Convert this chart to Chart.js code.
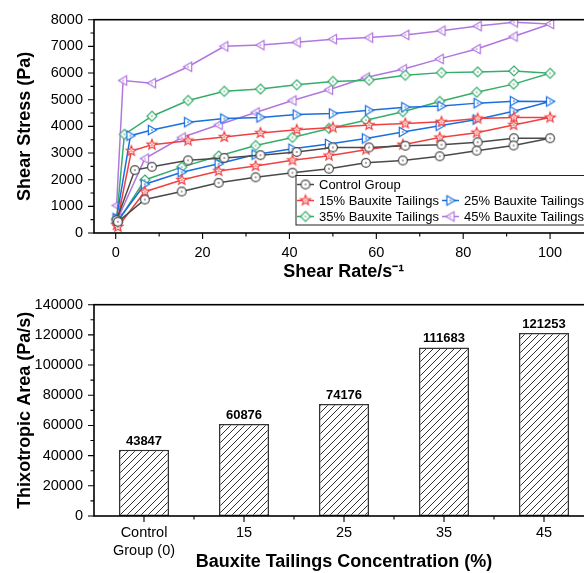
<!DOCTYPE html>
<html>
<head>
<meta charset="utf-8">
<script src="https://cdn.jsdelivr.net/npm/chart.js@4.4.0/dist/chart.umd.min.js"></script>
<style>
  html, body { margin: 0; padding: 0; background: #fff; overflow: hidden; }
  #wrap { position: relative; width: 584px; height: 573px; overflow: hidden; }
  canvas { position: absolute; left: 0; }
  #loop { top: 0; }
  #bars { top: 285px; }
</style>
</head>
<body>
<div id="wrap">
  <canvas id="loop" width="600" height="285"></canvas>
  <canvas id="bars" width="600" height="288"></canvas>
</div>
<script>
// ---- data: hysteresis loops (shear stress vs shear rate) ----
const groups = ['Control Group', '15% Bauxite Tailings', '25% Bauxite Tailings', '35% Bauxite Tailings', '45% Bauxite Tailings'];
const startRate = 0.2;                       // first point of the up curve
const rampRates = [4.4, 3.6, 3.4, 2.0, 1.7]; // second point of the up curve, per group
const upRates = [8.33, 16.67, 25, 33.33, 41.67, 50, 58.33, 66.67, 75, 83.33, 91.67, 100];
const downRates = [91.6, 83.1, 74.6, 66.1, 57.6, 49.1, 40.7, 32.2, 23.7, 15.2, 6.7, 0.5];

// up curve: [start, ramp, ...upRates]
const upControl = [480, 2360, 2483, 2725, 2816, 2920, 3040, 3210, 3210, 3273, 3310, 3406, 3554, 3554];
const up15 = [300, 3075, 3310, 3463, 3600, 3750, 3870, 3955, 4048, 4107, 4170, 4292, 4328, 4328];
const up25 = [560, 3650, 3863, 4155, 4292, 4335, 4440, 4480, 4600, 4718, 4760, 4871, 4945, 4934];
const up35 = [520, 3701, 4380, 4970, 5314, 5399, 5560, 5683, 5731, 5915, 6015, 6041, 6077, 5989];
const up45 = [1033, 5720, 5620, 6236, 7000, 7048, 7150, 7270, 7330, 7430, 7590, 7760, 7900, 7840];
// down curve: follows downRates
const downControl = [3284, 3089, 2878, 2720, 2631, 2410, 2262, 2090, 1882, 1555, 1255, 420];
const down15 = [4048, 3764, 3579, 3310, 3125, 2900, 2725, 2509, 2325, 1990, 1550, 232];
const down25 = [4565, 4255, 4022, 3790, 3545, 3340, 3160, 2941, 2594, 2280, 1830, 470];
const down35 = [5583, 5277, 4934, 4550, 4232, 3923, 3585, 3280, 2890, 2472, 1990, 428];
const down45 = [7370, 6900, 6530, 6140, 5830, 5376, 4970, 4520, 4060, 3580, 2790, 542];

const rateTicks = [0, 20, 40, 60, 80, 100];
const stressTicks = [0, 1000, 2000, 3000, 4000, 5000, 6000, 7000, 8000];

// ---- data: thixotropic area ----
const concLabels = [['Control', 'Group (0)'], '15', '25', '35', '45'];
const thixoArea = [43847, 60876, 74176, 111683, 121253];
const areaTicks = [0, 20000, 40000, 60000, 80000, 100000, 120000, 140000];

const upSets = [upControl, up15, up25, up35, up45];
const downSets = [downControl, down15, down25, down35, down45];
const colors = ['#4a4a4a', '#f14040', '#1a6fdf', '#37ad6b', '#b177de'];
const shapes = ['circle', 'star', 'right', 'diamond', 'left'];
const FONT = '"Liberation Sans", Arial, sans-serif';
const tickFont = { family: FONT, size: 14.5 };
const titleFont = { family: FONT, size: 18, weight: 'bold' };

// hollow marker with a dot in the middle
function marker(shape, color) {
  const s = 16, c = document.createElement('canvas');
  c.width = c.height = s;
  const g = c.getContext('2d');
  g.translate(s / 2, s / 2);
  g.beginPath();
  if (shape === 'circle') g.arc(0, 0, 4.4, 0, Math.PI * 2);
  else if (shape === 'star') {
    for (let k = 0; k < 10; k++) {
      const r = k % 2 ? 2.2 : 5.2, ang = -Math.PI / 2 + k * Math.PI / 5;
      g.lineTo(r * Math.cos(ang), r * Math.sin(ang));
    }
  } else if (shape === 'right') { g.moveTo(-3.6, -4.8); g.lineTo(4.6, 0); g.lineTo(-3.6, 4.8); }
  else if (shape === 'left') { g.moveTo(3.6, -4.8); g.lineTo(-4.6, 0); g.lineTo(3.6, 4.8); }
  else { g.moveTo(0, -5); g.lineTo(5, 0); g.lineTo(0, 5); g.lineTo(-5, 0); }
  g.closePath();
  g.fillStyle = '#fff'; g.fill();
  g.strokeStyle = color; g.lineWidth = 1.2; g.stroke();
  g.fillStyle = color; g.fillRect(-0.7, -0.7, 1.4, 1.4);
  return c;
}
const markers = shapes.map((s, i) => marker(s, colors[i]));

const loopSets = groups.map((name, i) => {
  const rates = [startRate, rampRates[i], ...upRates];
  const pts = rates.map((r, k) => ({ x: r, y: upSets[i][k] }))
    .concat(downRates.map((r, k) => ({ x: r, y: downSets[i][k] })));
  return {
    label: name, data: pts, showLine: true,
    borderColor: colors[i], borderWidth: 1.5,
    pointStyle: markers[i], pointRadius: 5
  };
});

// frame + outward major/minor ticks
const axisFrame = {
  id: 'axisFrame',
  afterDraw(chart) {
    const { ctx, chartArea: a } = chart;
    const sx = chart.scales.x, sy = chart.scales.y;
    const minors = (sc) => {
      const v = sc.ticks.map(t => t.value), out = [];
      for (let k = 0; k < v.length - 1; k++) out.push((v[k] + v[k + 1]) / 2);
      if (v.length > 1) out.push(v[v.length - 1] + (v[1] - v[0]) / 2);
      return out;
    };
    ctx.save();
    ctx.strokeStyle = '#000';
    ctx.lineWidth = 1.1;
    ctx.beginPath();
    sx.ticks.forEach(t => { const p = sx.getPixelForValue(t.value); ctx.moveTo(p, a.bottom); ctx.lineTo(p, a.bottom + 6); });
    minors(sx).forEach(v => { const p = sx.getPixelForValue(v); ctx.moveTo(p, a.bottom); ctx.lineTo(p, a.bottom + 3.5); });
    sy.ticks.forEach(t => { const p = sy.getPixelForValue(t.value); ctx.moveTo(a.left, p); ctx.lineTo(a.left - 6, p); });
    minors(sy).forEach(v => { if (v <= sy.max) { const p = sy.getPixelForValue(v); ctx.moveTo(a.left, p); ctx.lineTo(a.left - 3.5, p); } });
    ctx.stroke();
    ctx.lineWidth = 1.6;
    ctx.strokeRect(a.left, a.top, a.right - a.left, a.bottom - a.top);
    ctx.restore();
  }
};

// legend box inside the loop plot
const loopLegend = {
  id: 'loopLegend',
  afterDraw(chart) {
    const { ctx } = chart;
    const slots = [[296, 184.5], [296, 200.5], [441, 200.5], [296, 216.5], [441, 216.5]];
    ctx.save();
    ctx.fillStyle = '#fff';
    ctx.fillRect(296, 175.5, 310, 49.5);
    ctx.strokeStyle = '#222'; ctx.lineWidth = 1;
    ctx.strokeRect(296, 175.5, 310, 49.5);
    ctx.font = '13px ' + FONT;
    ctx.textBaseline = 'middle';
    groups.forEach((name, i) => {
      const [x, y] = slots[i];
      ctx.strokeStyle = colors[i]; ctx.lineWidth = 1.5;
      ctx.beginPath(); ctx.moveTo(x + 1, y); ctx.lineTo(x + 18, y); ctx.stroke();
      ctx.drawImage(markers[i], x + 9.5 - 8, y - 8);
      ctx.fillStyle = '#000';
      ctx.fillText(name, x + 23, y + 0.5);
    });
    ctx.restore();
  }
};

new Chart(document.getElementById('loop'), {
  type: 'scatter',
  data: { datasets: loopSets },
  options: {
    responsive: false, animation: false, events: [],
    layout: { padding: { top: 16, right: 6, bottom: 0, left: 0 } },
    plugins: { legend: { display: false }, tooltip: { enabled: false } },
    scales: {
      x: {
        type: 'linear', min: -5, max: 110, bounds: 'data',
        afterBuildTicks: s => { s.ticks = rateTicks.map(v => ({ value: v })); },
        afterFit: s => { s.height = 52; },
        grid: { display: false, drawTicks: false }, border: { display: false },
        ticks: { color: '#000', font: tickFont, padding: 11, maxRotation: 0, callback: v => String(v) },
        title: { display: true, text: 'Shear Rate/s⁻¹', color: '#000', font: titleFont, padding: { top: 0, bottom: 2 } }
      },
      y: {
        type: 'linear', min: 0, max: 8000, bounds: 'data',
        afterBuildTicks: s => { s.ticks = stressTicks.map(v => ({ value: v })); },
        afterFit: s => { s.width = 94; },
        grid: { display: false, drawTicks: false }, border: { display: false },
        ticks: { color: '#000', font: tickFont, padding: 11, callback: v => String(v) },
        title: { display: true, text: 'Shear Stress (Pa)', color: '#000', font: titleFont, padding: { top: 14, bottom: 0 } }
      }
    }
  },
  plugins: [axisFrame, loopLegend]
});

// ---- bar chart ----
const barCtx = document.getElementById('bars').getContext('2d');
function hatch() {
  const n = 7, c = document.createElement('canvas');
  c.width = c.height = n;
  const g = c.getContext('2d');
  g.fillStyle = '#fff'; g.fillRect(0, 0, n, n);
  g.strokeStyle = '#1a1a1a'; g.lineWidth = 0.9;
  g.beginPath();
  g.moveTo(-1, n + 1); g.lineTo(n + 1, -1);
  g.moveTo(-1, 1); g.lineTo(1, -1);
  g.moveTo(n - 1, n + 1); g.lineTo(n + 1, n - 1);
  g.stroke();
  return barCtx.createPattern(c, 'repeat');
}

const barValues = {
  id: 'barValues',
  afterDatasetsDraw(chart) {
    const { ctx } = chart;
    ctx.save();
    ctx.font = 'bold 13px ' + FONT;
    ctx.fillStyle = '#000';
    ctx.textAlign = 'center';
    ctx.textBaseline = 'alphabetic';
    chart.getDatasetMeta(0).data.forEach((bar, i) => ctx.fillText(String(thixoArea[i]), bar.x, bar.y - 5));
    ctx.restore();
  }
};

new Chart(barCtx, {
  type: 'bar',
  data: {
    labels: concLabels,
    datasets: [{
      data: thixoArea,
      backgroundColor: hatch(),
      borderColor: '#333', borderWidth: 1.5, borderSkipped: false,
      barPercentage: 0.5, categoryPercentage: 1.0
    }]
  },
  options: {
    responsive: false, animation: false, events: [],
    layout: { padding: { top: 13, right: 6, bottom: 0, left: 0 } },
    plugins: { legend: { display: false }, tooltip: { enabled: false } },
    scales: {
      x: {
        type: 'category', offset: true,
        afterFit: s => { s.height = 57; },
        grid: { display: false, drawTicks: false, offset: false }, border: { display: false },
        ticks: { color: '#000', font: { family: FONT, size: 14.5, lineHeight: 1.25 }, padding: 8, maxRotation: 0 },
        title: { display: true, text: 'Bauxite Tailings Concentration (%)', color: '#000', font: titleFont, padding: { top: 0, bottom: 0 } }
      },
      y: {
        type: 'linear', min: 0, max: 140000, bounds: 'data',
        afterBuildTicks: s => { s.ticks = areaTicks.map(v => ({ value: v })); },
        afterFit: s => { s.width = 94; },
        grid: { display: false, drawTicks: false }, border: { display: false },
        ticks: { color: '#000', font: tickFont, padding: 11, callback: v => String(v) },
        title: { display: true, text: 'Thixotropic Area (Pa/s)', color: '#000', font: titleFont, padding: { top: 14, bottom: 0 } }
      }
    }
  },
  plugins: [axisFrame, barValues]
});
</script>
</body>
</html>
